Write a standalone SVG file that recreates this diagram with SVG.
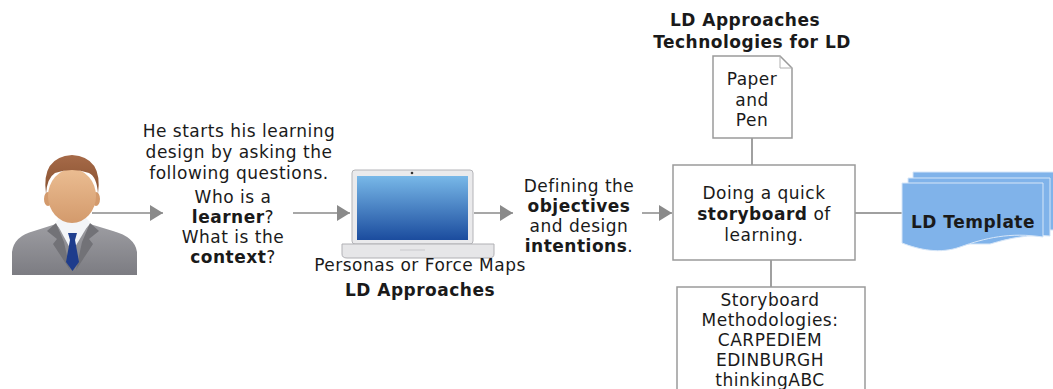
<svg xmlns="http://www.w3.org/2000/svg" width="1053" height="389" viewBox="0 0 1053 389">
  <style>
    text { font-family: "DejaVu Sans", Verdana, sans-serif; font-size: 17px; letter-spacing: 0.5px; fill: #1a1a1a; text-anchor: middle; }
    .b { font-weight: bold; }
    .box { fill: #ffffff; stroke: #9a9a9a; stroke-width: 1.5; }
    .link { stroke: #808080; stroke-width: 1.5; fill: none; }
    .arrow { stroke: #8a8a8a; stroke-width: 1.5; fill: none; marker-end: url(#head); }
    .tpl { fill: #80b3ea; stroke: #d6e6f8; stroke-width: 1; }
  </style>
  <defs>
    <marker id="head" markerUnits="userSpaceOnUse" markerWidth="14" markerHeight="16" refX="13" refY="8" orient="auto">
      <path d="M0,0 L13,8 L0,16 Z" fill="#8a8a8a"/>
    </marker>
    <linearGradient id="screen" x1="0" y1="0" x2="0" y2="1">
      <stop offset="0" stop-color="#78b8e8"/>
      <stop offset="1" stop-color="#1b4c9e"/>
    </linearGradient>
    <linearGradient id="face" x1="0" y1="0" x2="0" y2="1">
      <stop offset="0" stop-color="#ebbd92"/>
      <stop offset="1" stop-color="#d39a6c"/>
    </linearGradient>
    <linearGradient id="suit" x1="0" y1="0" x2="0" y2="1">
      <stop offset="0" stop-color="#9d9da2"/>
      <stop offset="1" stop-color="#7c7c82"/>
    </linearGradient>
    <linearGradient id="hair" x1="0" y1="0" x2="0" y2="1">
      <stop offset="0" stop-color="#a66a48"/>
      <stop offset="1" stop-color="#87502f"/>
    </linearGradient>
  </defs>

  <!-- connectors -->
  <g id="connectors">
    <line class="arrow" x1="92" y1="213" x2="163" y2="213"/>
    <line class="arrow" x1="293" y1="213" x2="350" y2="213"/>
    <line class="arrow" x1="474" y1="213" x2="513" y2="213"/>
    <line class="arrow" x1="642" y1="213" x2="672" y2="213"/>
    <line class="link" x1="752" y1="138" x2="752" y2="165"/>
    <line class="link" x1="771" y1="260" x2="771" y2="287"/>
    <line class="link" x1="855" y1="213" x2="902" y2="213"/>
  </g>

  <!-- designer figure -->
  <g id="designer">
    <path d="M12,275 L12,252 Q14,236 34,231 L56,224 L72,242 L90,224 L113,231 Q135,237 137,252 L137,275 Z" fill="url(#suit)"/>
    <rect x="60" y="208" width="25" height="20" fill="#c58b62"/>
    <path d="M56,222 L72,252 L90,222 L85,217 L60,217 Z" fill="#f3f5f8"/>
    <path d="M56,223 L47,231 L57,239 L53,244 L70,270 L64,242 Z" fill="#727277"/>
    <path d="M90,223 L99,231 L89,239 L93,244 L76,270 L82,242 Z" fill="#727277"/>
    <path d="M68,233 L77,233 L75,240 L70,240 Z" fill="#203f8f"/>
    <path d="M70,240 L75,240 L79,262 L72.5,271 L66,262 Z" fill="#1e3c8c"/>
    <ellipse cx="48" cy="199" rx="4" ry="7" fill="#d39a6c"/>
    <ellipse cx="96" cy="199" rx="4" ry="7" fill="#d39a6c"/>
    <ellipse cx="72" cy="196" rx="24" ry="27" fill="url(#face)"/>
    <path d="M46,194 Q41,157 72,155 Q103,157 98,194 Q97,177 89,173 Q72,167 55,173 Q47,178 46,194 Z" fill="url(#hair)"/>
  </g>

  <!-- opening questions -->
  <g id="questions">
    <text x="239" y="137">He starts his learning</text>
    <text x="239" y="158">design by asking the</text>
    <text x="239" y="179">following questions.</text>
    <text x="233" y="203">Who is a</text>
    <text x="233" y="223"><tspan class="b">learner</tspan>?</text>
    <text x="233" y="243">What is the</text>
    <text x="233" y="263"><tspan class="b">context</tspan>?</text>
  </g>

  <!-- laptop: personas or force maps -->
  <g id="laptop">
    <rect x="352" y="170" width="121" height="74" rx="3" fill="#eaeaec" stroke="#b4b4b8" stroke-width="1"/>
    <rect x="357" y="176" width="111" height="64" fill="url(#screen)"/>
    <circle cx="412" cy="173" r="1.3" fill="#333"/>
    <path d="M342,244 L494,244 L494,254 Q494,258 489,258 L347,258 Q342,258 342,254 Z" fill="#e6e6e8" stroke="#b0b0b4" stroke-width="1"/>
    <line x1="400" y1="250" x2="425" y2="250" stroke="#c8c8cc" stroke-width="1"/>
    <text x="420" y="271">Personas or Force Maps</text>
    <text class="b" x="420" y="296">LD Approaches</text>
  </g>

  <!-- objectives -->
  <g id="objectives">
    <text x="579" y="192">Defining the</text>
    <text class="b" x="579" y="212">objectives</text>
    <text x="579" y="232">and design</text>
    <text x="579" y="252"><tspan class="b">intentions</tspan>.</text>
  </g>

  <!-- technologies title -->
  <g id="technologies">
    <text class="b" x="745" y="26">LD Approaches</text>
    <text class="b" x="752" y="48">Technologies for LD</text>
  </g>

  <!-- paper and pen -->
  <g id="paper">
    <path class="box" d="M713,56 L780,56 L792,68 L792,138 L713,138 Z"/>
    <path d="M780,56 L780,68 L792,68" fill="none" stroke="#b0b0b0" stroke-width="1"/>
    <text x="752" y="85">Paper</text>
    <text x="752" y="106">and</text>
    <text x="752" y="126">Pen</text>
  </g>

  <!-- storyboard step -->
  <g id="storyboard">
    <rect class="box" x="673" y="165" width="182" height="95"/>
    <text x="764" y="199">Doing a quick</text>
    <text x="764" y="220"><tspan class="b">storyboard</tspan> of</text>
    <text x="764" y="241">learning.</text>
  </g>

  <!-- methodologies -->
  <g id="methodologies">
    <rect class="box" x="677" y="287" width="188" height="120"/>
    <text x="770" y="306">Storyboard</text>
    <text x="770" y="326">Methodologies:</text>
    <text x="770" y="346">CARPEDIEM</text>
    <text x="770" y="366">EDINBURGH</text>
    <text x="770" y="386">thinkingABC</text>
  </g>

  <!-- LD template stack -->
  <g id="template">
    <path class="tpl" d="M913,172 L1060,172 L1060,230 L913,230 Z"/>
    <path class="tpl" d="M908,178 L1050,178 L1050,236 C1030,234 1010,238 990,244 L908,244 Z"/>
    <path class="tpl" d="M902,183 L1043,183 L1043,237 C1010,232 985,238 960,247 C940,254 920,250 902,243 Z"/>
    <text class="b" x="973" y="228">LD Template</text>
  </g>
</svg>
